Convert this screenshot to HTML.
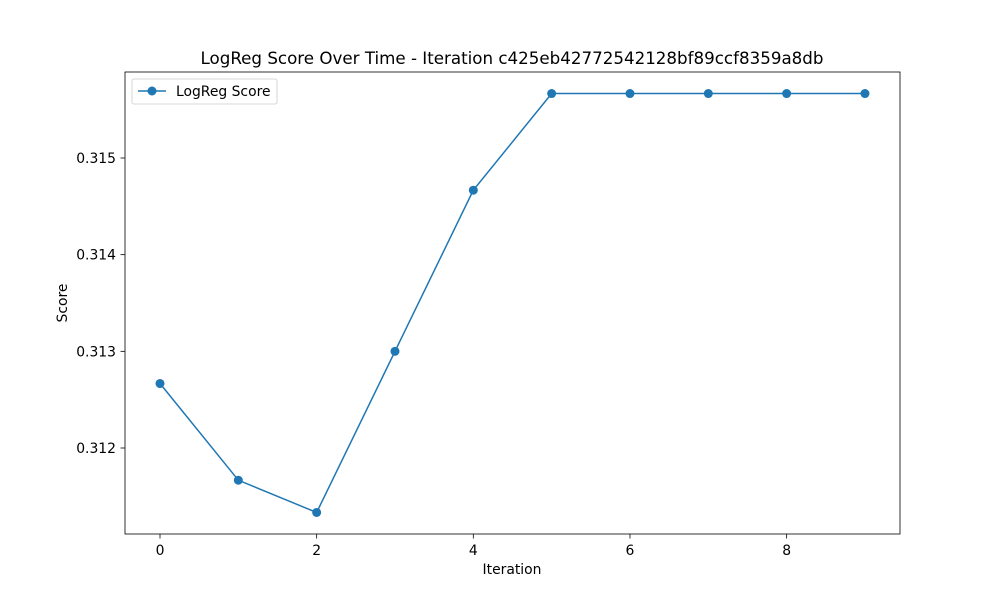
<!DOCTYPE html>
<html><head><meta charset="utf-8"><style>
body{margin:0;background:#fff;font-family:"Liberation Sans","DejaVu Sans",sans-serif;}
svg text{font-family:"DejaVu Sans","Liberation Sans",sans-serif;}
</style></head><body>
<svg id="chart" width="1000" height="600" xmlns="http://www.w3.org/2000/svg">
<rect width="1000" height="600" fill="#fff"/>
<text x="512" y="64" font-size="16.7" text-anchor="middle">LogReg Score Over Time - Iteration c425eb42772542128bf89ccf8359a8db</text>
<g id="axes"></g>
<g id="series"></g>
<rect x="125" y="72" width="775" height="462" fill="none" stroke="#000" stroke-width="0.8"/>
<text x="512" y="574" font-size="13.9" text-anchor="middle">Iteration</text>
<text transform="translate(67,303) rotate(-90)" font-size="13.9" text-anchor="middle">Score</text>
<g>
<rect x="132" y="79" width="145" height="25" rx="2" fill="#fff" stroke="#ccc" stroke-width="0.8"/>
<line x1="138" y1="91" x2="166" y2="91" stroke="#1f77b4" stroke-width="1.5"/>
<circle cx="152" cy="91" r="4.5" fill="#1f77b4"/>
<text x="176" y="96" font-size="13.9">LogReg Score</text>
</g>
</svg>
<script>
const iterations=[0,1,2,3,4,5,6,7,8,9];
const scores=[0.312667,0.311667,0.311333,0.313,0.314667,0.315667,0.315667,0.315667,0.315667,0.315667];
const xTicks=[0,2,4,6,8];
const yTicks=[0.312,0.313,0.314,0.315];
const xs=v=>160+v*78.33;
const ys=v=>448-(v-0.312)*96667;
const NS="http://www.w3.org/2000/svg";
const ax=document.getElementById('axes'),se=document.getElementById('series');
function mk(t,a,p){const e=document.createElementNS(NS,t);for(const k in a)e.setAttribute(k,a[k]);p.appendChild(e);return e;}
xTicks.forEach(t=>{const x=xs(t);
mk('line',{x1:x,y1:534,x2:x,y2:538.5,stroke:'#000','stroke-width':0.8},ax);
const tx=mk('text',{x:x,y:555,'font-size':13.9,'text-anchor':'middle'},ax);tx.textContent=t;

});
yTicks.forEach(t=>{const y=ys(t);
mk('line',{x1:120.5,y1:y,x2:125,y2:y,stroke:'#000','stroke-width':0.8},ax);
const tx=mk('text',{x:116,y:y+5,'font-size':13.9,'text-anchor':'end'},ax);tx.textContent=t.toFixed(3);

});
const pl=mk('polyline',{points:iterations.map((v,i)=>xs(v)+','+ys(scores[i])).join(' '),fill:'none',stroke:'#1f77b4','stroke-width':1.5},se);


iterations.forEach((v,i)=>{const c=mk('circle',{cx:xs(v),cy:ys(scores[i]),r:4.5,fill:'#1f77b4'},se);

});
</script>
</body></html>
